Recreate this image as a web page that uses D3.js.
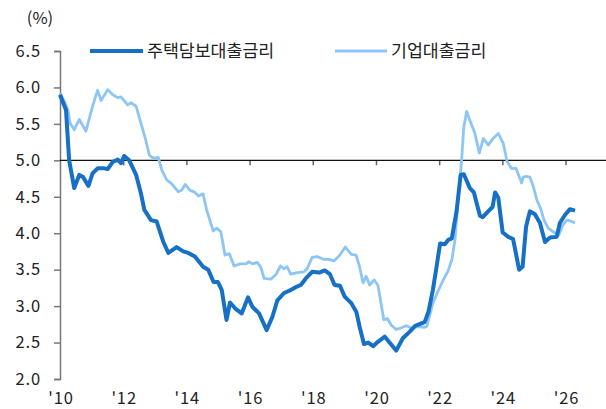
<!DOCTYPE html>
<html>
<head>
<meta charset="utf-8">
<script src="https://cdn.jsdelivr.net/npm/d3@7/dist/d3.min.js"></script>
<style>
  body { margin: 0; background: #fff; }
  svg text { font-family: "Noto Sans CJK KR", "Noto Sans", sans-serif; fill: #222; }
</style>
</head>
<body>
<div id="chart"></div>
<script>
// decimal years / rates (%)
const mortgageDates = [2010.00,2010.19,2010.29,2010.45,2010.61,2010.73,2010.90,2011.03,2011.19,2011.40,2011.51,2011.67,2011.83,2011.93,2012.03,2012.19,2012.41,2012.56,2012.67,2012.88,2013.06,2013.27,2013.43,2013.69,2013.90,2014.06,2014.27,2014.53,2014.69,2014.86,2015.00,2015.12,2015.27,2015.38,2015.54,2015.75,2015.95,2016.09,2016.30,2016.54,2016.72,2016.88,2017.09,2017.30,2017.46,2017.62,2017.78,2017.98,2018.20,2018.38,2018.54,2018.69,2018.86,2019.01,2019.22,2019.38,2019.48,2019.62,2019.75,2019.91,2020.06,2020.28,2020.43,2020.64,2020.85,2021.07,2021.24,2021.54,2021.66,2021.80,2021.91,2022.03,2022.18,2022.29,2022.40,2022.55,2022.68,2022.78,2022.97,2023.10,2023.29,2023.38,2023.55,2023.69,2023.77,2023.87,2024.01,2024.19,2024.34,2024.53,2024.64,2024.75,2024.87,2025.03,2025.19,2025.35,2025.51,2025.72,2025.82,2025.98,2026.14,2026.30];
const mortgageRates = [5.90,5.69,5.00,4.62,4.80,4.77,4.65,4.82,4.89,4.89,4.88,4.98,5.01,4.96,5.06,5.00,4.80,4.55,4.32,4.18,4.16,3.88,3.73,3.81,3.75,3.73,3.68,3.54,3.50,3.33,3.33,3.22,2.81,3.05,2.97,2.90,3.12,2.99,2.90,2.67,2.85,3.08,3.18,3.22,3.26,3.29,3.38,3.47,3.46,3.49,3.44,3.29,3.28,3.13,3.04,2.92,2.72,2.48,2.50,2.45,2.51,2.58,2.50,2.39,2.56,2.65,2.73,2.78,2.92,3.22,3.52,3.86,3.85,3.91,3.93,4.30,4.80,4.81,4.62,4.56,4.24,4.22,4.30,4.36,4.56,4.49,4.01,3.95,3.92,3.50,3.54,4.09,4.30,4.26,4.14,3.88,3.94,3.95,4.14,4.25,4.33,4.31];

const corpDates = [2010.00,2010.17,2010.25,2010.32,2010.45,2010.61,2010.82,2011.03,2011.19,2011.30,2011.51,2011.67,2011.83,2011.93,2012.03,2012.14,2012.25,2012.41,2012.56,2012.70,2012.83,2012.91,2013.01,2013.11,2013.22,2013.38,2013.53,2013.74,2013.85,2013.96,2014.11,2014.27,2014.38,2014.53,2014.64,2014.85,2014.96,2015.09,2015.22,2015.36,2015.51,2015.70,2015.89,2015.98,2016.09,2016.24,2016.35,2016.46,2016.67,2016.83,2016.98,2017.09,2017.19,2017.30,2017.51,2017.72,2017.83,2017.98,2018.14,2018.35,2018.51,2018.67,2018.86,2019.03,2019.22,2019.37,2019.48,2019.59,2019.69,2019.80,2019.94,2020.06,2020.25,2020.36,2020.48,2020.64,2020.79,2020.96,2021.12,2021.33,2021.54,2021.61,2021.80,2021.96,2022.12,2022.28,2022.41,2022.50,2022.60,2022.71,2022.78,2022.87,2022.97,2023.13,2023.27,2023.40,2023.55,2023.71,2023.87,2024.03,2024.15,2024.29,2024.43,2024.61,2024.66,2024.75,2024.87,2024.98,2025.09,2025.21,2025.32,2025.45,2025.61,2025.72,2025.79,2025.91,2026.04,2026.14,2026.30];
const corpRates = [5.92,5.78,5.69,5.51,5.42,5.56,5.40,5.74,5.96,5.82,5.97,5.90,5.86,5.87,5.82,5.76,5.79,5.74,5.51,5.30,5.07,5.04,5.03,5.04,4.87,4.73,4.68,4.57,4.59,4.67,4.59,4.56,4.51,4.54,4.32,4.03,4.07,4.02,3.70,3.72,3.55,3.58,3.58,3.61,3.58,3.60,3.54,3.38,3.37,3.43,3.55,3.51,3.54,3.44,3.46,3.47,3.52,3.67,3.68,3.64,3.64,3.62,3.70,3.81,3.71,3.70,3.54,3.32,3.41,3.29,3.36,3.29,2.81,2.83,2.74,2.68,2.70,2.73,2.70,2.72,2.71,2.72,3.04,3.20,3.35,3.48,3.65,3.91,4.46,5.00,5.46,5.67,5.55,5.37,5.10,5.30,5.21,5.30,5.37,5.23,4.98,4.89,4.89,4.69,4.77,4.78,4.77,4.64,4.46,4.34,4.18,4.07,4.02,3.99,3.98,4.11,4.18,4.17,4.14];

const seriesNames = ["주택담보대출금리", "기업대출금리"];
const yTicks = [2.0, 2.5, 3.0, 3.5, 4.0, 4.5, 5.0, 5.5, 6.0, 6.5];
const xTicks = [2010, 2012, 2014, 2016, 2018, 2020, 2022, 2024, 2026];

const width = 606, height = 409;
const colors = { dark: "#1570c6", light: "#8dc5f5" };

const svg = d3.select("#chart").append("svg")
  .attr("width", width)
  .attr("height", height);

const x = d3.scaleLinear().domain([2010, 2027.28]).range([60, 606]);
const y = d3.scaleLinear().domain([2, 6.5]).range([379, 51]);

// y axis
const yAxis = svg.append("g")
  .attr("transform", "translate(60,0)")
  .call(d3.axisLeft(y).tickValues(yTicks).tickSize(6).tickPadding(13)
    .tickFormat(d3.format(".1f")));
yAxis.select(".domain").attr("stroke", "#777").attr("stroke-width", 1.5);
yAxis.selectAll(".tick line").attr("stroke", "#777").attr("stroke-width", 1.5);
yAxis.selectAll("text")
  .style("font-size", "16.5px")
  .style("letter-spacing", "0.9px")
  .attr("fill", "#222");

// x axis sits on the 5.0 line
const xAxis = svg.append("g")
  .attr("transform", "translate(0," + y(5) + ")")
  .call(d3.axisBottom(x).tickValues(xTicks.slice(1)).tickSize(5).tickFormat(""));
xAxis.select(".domain").remove();
xAxis.selectAll(".tick line").attr("stroke", "#666").attr("stroke-width", 1.5);
svg.append("line")
  .attr("x1", x(2010)).attr("x2", width)
  .attr("y1", y(5)).attr("y2", y(5))
  .attr("stroke", "#111").attr("stroke-width", 1.3);

// year labels at bottom
svg.append("g").selectAll("text")
  .data(xTicks)
  .join("text")
  .attr("x", (d) => x(d) + 1)
  .attr("y", 400)
  .attr("text-anchor", "middle")
  .attr("dominant-baseline", "middle")
  .style("font-size", "16.5px")
  .style("letter-spacing", "0.9px")
  .text((d) => "'" + String(d).slice(2));

svg.append("text")
  .attr("x", 40).attr("y", 20)
  .attr("text-anchor", "middle")
  .attr("dominant-baseline", "middle")
  .style("font-size", "16.5px")
  .text("(%)");

// lines
const line = d3.line()
  .x((d) => x(d[0]))
  .y((d) => y(d[1]));

svg.append("path")
  .datum(d3.zip(corpDates, corpRates))
  .attr("fill", "none")
  .attr("stroke", colors.light)
  .attr("stroke-width", 2.8)
  .attr("stroke-linejoin", "round")
  .attr("d", line);

svg.append("path")
  .datum(d3.zip(mortgageDates, mortgageRates))
  .attr("fill", "none")
  .attr("stroke", colors.dark)
  .attr("stroke-width", 4)
  .attr("stroke-linejoin", "round")
  .attr("d", line);

// legend
const legend = [
  { name: seriesNames[0], color: colors.dark, w: 4, x0: 90, x1: 143 },
  { name: seriesNames[1], color: colors.light, w: 3, x0: 335, x1: 387 }
];
const lg = svg.append("g").selectAll("g").data(legend).join("g");
lg.append("line")
  .attr("x1", (d) => d.x0).attr("x2", (d) => d.x1)
  .attr("y1", 51).attr("y2", 51)
  .attr("stroke", (d) => d.color)
  .attr("stroke-width", (d) => d.w);
lg.append("text")
  .attr("x", (d) => d.x1 + 4)
  .attr("y", 52)
  .attr("dominant-baseline", "middle")
  .style("font-size", "17.3px")
  .text((d) => d.name);
</script>
</body>
</html>
